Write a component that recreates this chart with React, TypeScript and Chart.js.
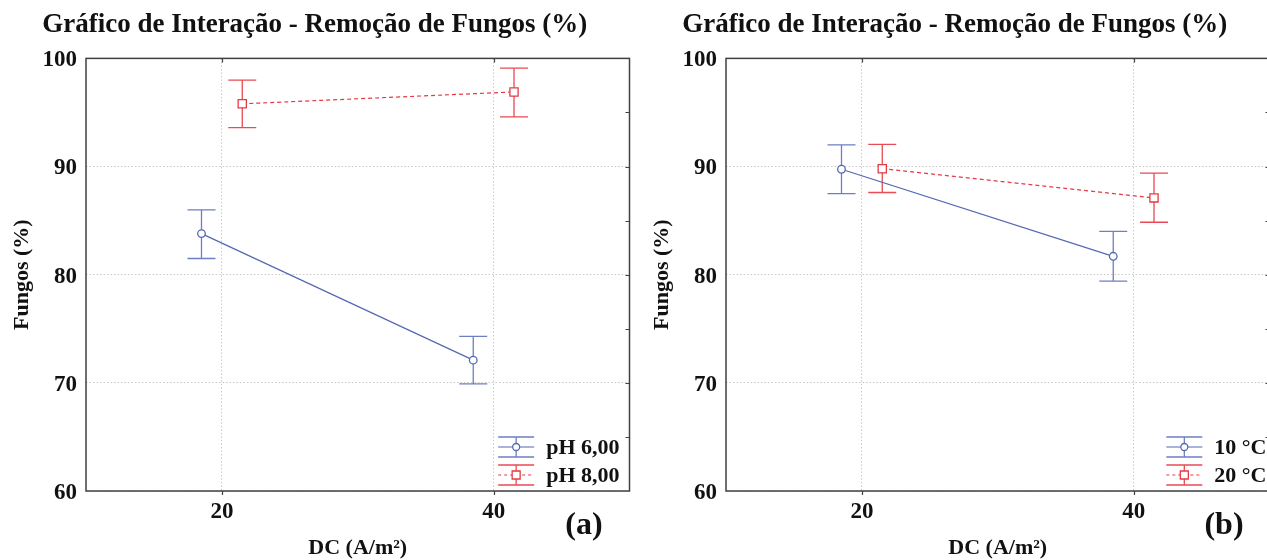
import React, { useEffect, useRef } from "react";
import { Chart, registerables } from "chart.js";

Chart.register(...registerables);

// ---------- data ----------
const dcLevels = [20, 40];
const xTickValues = [20, 40];
const yTickValues = [60, 70, 80, 90, 100];
const yMinorTickValues = [65, 70, 75, 80, 85, 90, 95];

const chartTitle = "Gráfico de Interação - Remoção de Fungos (%)";
const xAxisTitle = "DC (A/m²)";
const yAxisTitle = "Fungos (%)";

// panel (a): pH
const ph6Mean = [83.8, 72.1];
const ph6Low = [81.5, 69.9];
const ph6High = [86.0, 74.3];
const ph8Mean = [95.8, 96.9];
const ph8Low = [93.6, 94.6];
const ph8High = [98.0, 99.1];

// panel (b): temperature
const t10Mean = [89.75, 81.7];
const t10Low = [87.5, 79.4];
const t10High = [92.0, 84.0];
const t20Mean = [89.8, 87.1];
const t20Low = [87.6, 84.85];
const t20High = [92.05, 89.4];

// ---------- styles ----------
const FONT = "'Liberation Serif', 'Times New Roman', serif";
const TEXT = "#111";
const BLUE = "#5468b4";
const BLUE_ERR = "#6d7fc2";
const RED = "#e53a44";
const RED_ERR = "#ea4a53";

type Series = {
  label: string;
  mean: number[];
  low: number[];
  high: number[];
  color: string;
  errColor: string;
  dash: number[];
  pointStyle: "circle" | "rect";
  pointRadius: number;
  shift: number;
};

type Panel = {
  id: string;
  letter: string;
  left: number;
  legendPadRight: number;
  series: Series[];
};

const blueStyle = { color: BLUE, errColor: BLUE_ERR, dash: [] as number[], pointStyle: "circle" as const, pointRadius: 3.8, shift: -1.5 };
const redStyle = { color: RED, errColor: RED_ERR, dash: [4, 3], pointStyle: "rect" as const, pointRadius: 5.8, shift: 1.5 };

const panels: Panel[] = [
  {
    id: "a",
    letter: "(a)",
    left: 0,
    legendPadRight: 10,
    series: [
      { label: "pH 6,00", mean: ph6Mean, low: ph6Low, high: ph6High, ...blueStyle },
      { label: "pH 8,00", mean: ph8Mean, low: ph8Low, high: ph8High, ...redStyle },
    ],
  },
  {
    id: "b",
    letter: "(b)",
    left: 640,
    legendPadRight: 3,
    series: [
      { label: "10 °C", mean: t10Mean, low: t10Low, high: t10High, ...blueStyle },
      { label: "20 °C", mean: t20Mean, low: t20Low, high: t20High, ...redStyle },
    ],
  },
];

function drawMarker(ctx: CanvasRenderingContext2D, s: Series, x: number, y: number, r: number) {
  ctx.save();
  ctx.fillStyle = "#fff";
  ctx.strokeStyle = s.color;
  ctx.lineWidth = 1.3;
  ctx.setLineDash([]);
  ctx.beginPath();
  if (s.pointStyle === "circle") {
    ctx.arc(x, y, r, 0, Math.PI * 2);
  } else {
    ctx.rect(x - r, y - r, 2 * r, 2 * r);
  }
  ctx.fill();
  ctx.stroke();
  ctx.restore();
}

function makePlugin(panel: Panel) {
  return {
    id: "decor_" + panel.id,
    beforeDatasetsDraw(chart: any) {
      const ctx: CanvasRenderingContext2D = chart.ctx;
      const xs = chart.scales.x;
      const ys = chart.scales.y;
      const cap = 14;
      ctx.save();
      ctx.lineWidth = 1.3;
      ctx.setLineDash([]);
      panel.series.forEach((s) => {
        ctx.strokeStyle = s.errColor;
        dcLevels.forEach((dc, i) => {
          const x = xs.getPixelForValue(dc + s.shift);
          const yt = ys.getPixelForValue(s.high[i]);
          const yb = ys.getPixelForValue(s.low[i]);
          ctx.beginPath();
          ctx.moveTo(x, yt);
          ctx.lineTo(x, yb);
          ctx.moveTo(x - cap, yt);
          ctx.lineTo(x + cap, yt);
          ctx.moveTo(x - cap, yb);
          ctx.lineTo(x + cap, yb);
          ctx.stroke();
        });
      });
      ctx.restore();
    },
    afterDraw(chart: any) {
      const ctx: CanvasRenderingContext2D = chart.ctx;
      const ca = chart.chartArea;
      const xs = chart.scales.x;
      const ys = chart.scales.y;
      ctx.save();
      ctx.setLineDash([]);
      // frame
      ctx.strokeStyle = "#404040";
      ctx.lineWidth = 1.5;
      ctx.strokeRect(ca.left, ca.top, ca.right - ca.left, ca.bottom - ca.top);
      // ticks
      ctx.lineWidth = 1.2;
      ctx.strokeStyle = "#404040";
      ctx.beginPath();
      xTickValues.forEach((v) => {
        const x = Math.round(xs.getPixelForValue(v)) + 0.5;
        ctx.moveTo(x, ca.bottom);
        ctx.lineTo(x, ca.bottom + 4);
        ctx.moveTo(x, ca.top);
        ctx.lineTo(x, ca.top + 4);
      });
      yMinorTickValues.forEach((v) => {
        const y = Math.round(ys.getPixelForValue(v)) + 0.5;
        ctx.moveTo(ca.right, y);
        ctx.lineTo(ca.right - 4, y);
      });
      ctx.stroke();

      // legend
      ctx.font = `bold 22px ${FONT}`;
      const maxW = Math.max(...panel.series.map((s) => ctx.measureText(s.label).width));
      const textX = ca.right - panel.legendPadRight - maxW;
      const iconCx = textX - 12 - 18;
      const rowYs = [ca.bottom - 44, ca.bottom - 16];
      panel.series.forEach((s, k) => {
        const cy = rowYs[k];
        ctx.strokeStyle = s.errColor;
        ctx.lineWidth = 1.3;
        ctx.setLineDash([]);
        ctx.beginPath();
        ctx.moveTo(iconCx - 18, cy - 10);
        ctx.lineTo(iconCx + 18, cy - 10);
        ctx.moveTo(iconCx - 18, cy + 10);
        ctx.lineTo(iconCx + 18, cy + 10);
        ctx.moveTo(iconCx, cy - 10);
        ctx.lineTo(iconCx, cy + 10);
        ctx.stroke();
        ctx.strokeStyle = s.color;
        ctx.lineWidth = 1.2;
        ctx.setLineDash(s.dash.length ? [3, 3] : []);
        ctx.beginPath();
        ctx.moveTo(iconCx - 18, cy);
        ctx.lineTo(iconCx + 18, cy);
        ctx.stroke();
        drawMarker(ctx, s, iconCx, cy, s.pointStyle === "circle" ? 3.5 : 4);
        ctx.fillStyle = TEXT;
        ctx.textAlign = "left";
        ctx.textBaseline = "middle";
        ctx.fillText(s.label, textX, cy + 1);
      });

      // panel letter
      ctx.font = `bold 32px ${FONT}`;
      ctx.fillStyle = TEXT;
      ctx.textAlign = "center";
      ctx.textBaseline = "middle";
      ctx.fillText(panel.letter, 584, 526);
      ctx.restore();
    },
  };
}

function PanelChart({ panel }: { panel: Panel }) {
  const ref = useRef<HTMLCanvasElement | null>(null);
  useEffect(() => {
    if (!ref.current) return;
    const tickFont = { family: FONT, size: 23, weight: "bold" as const };
    const titleFont = { family: FONT, size: 22, weight: "bold" as const };
    const chart = new Chart(ref.current, {
      type: "line",
      data: {
        datasets: panel.series.map((s) => ({
          label: s.label,
          data: dcLevels.map((dc, i) => ({ x: dc + s.shift, y: s.mean[i] })),
          borderColor: s.color,
          borderWidth: 1.2,
          borderDash: s.dash,
          pointStyle: s.pointStyle,
          pointRadius: s.pointRadius,
          pointBackgroundColor: "#fff",
          pointBorderColor: s.color,
          pointBorderWidth: 1.3,
          tension: 0,
          fill: false,
        })),
      },
      options: {
        responsive: false,
        animation: false,
        devicePixelRatio: 1,
        events: [],
        layout: { padding: { left: 0, right: 10.5, top: 0, bottom: 0 } },
        plugins: {
          legend: { display: false },
          tooltip: { enabled: false },
          title: {
            display: true,
            text: chartTitle,
            color: TEXT,
            font: { family: FONT, size: 27, weight: "bold" },
            padding: { top: 9, bottom: 17 },
          },
        },
        scales: {
          x: {
            type: "linear",
            min: 10,
            max: 50,
            afterBuildTicks: (s: any) => {
              s.ticks = xTickValues.map((v) => ({ value: v }));
            },
            afterFit: (s: any) => {
              s.height = 69;
            },
            grid: { color: "#c8c8c8", lineWidth: 1, drawTicks: false },
            border: { display: false, dash: [1.5, 2] },
            ticks: { font: tickFont, color: TEXT, padding: 7, maxRotation: 0 },
            title: { display: true, text: xAxisTitle, color: TEXT, font: titleFont, padding: { top: 0, bottom: -2 } },
          },
          y: {
            type: "linear",
            min: 60,
            max: 100,
            afterBuildTicks: (s: any) => {
              s.ticks = yTickValues.map((v) => ({ value: v }));
            },
            afterFit: (s: any) => {
              s.width = 86;
            },
            grid: { color: "#c8c8c8", lineWidth: 1, drawTicks: false },
            border: { display: false, dash: [1.5, 2] },
            ticks: { font: tickFont, color: TEXT, padding: 9, labelOffset: 2 },
            title: { display: true, text: yAxisTitle, color: TEXT, font: titleFont, padding: { top: 9, bottom: 0 } },
          },
        },
      } as any,
      plugins: [makePlugin(panel)],
    });
    return () => chart.destroy();
  }, [panel]);
  return (
    <div style={{ position: "absolute", left: panel.left, top: 0, width: 640, height: 560 }}>
      <canvas ref={ref} width={640} height={560} style={{ display: "block", width: 640, height: 560 }} />
    </div>
  );
}

export default function App() {
  return (
    <div
      style={{
        position: "absolute",
        left: 0,
        top: 0,
        width: 1267,
        height: 560,
        overflow: "hidden",
        background: "#fff",
      }}
    >
      {panels.map((p) => (
        <PanelChart key={p.id} panel={p} />
      ))}
    </div>
  );
}
